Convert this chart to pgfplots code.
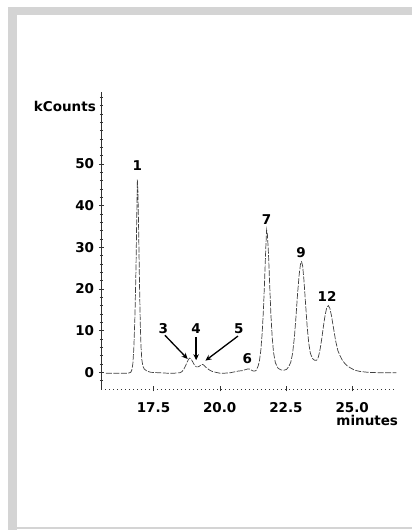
\documentclass[border=0pt]{standalone}
\usepackage{fontspec}
\setmainfont{DejaVu Sans}
\usepackage{pgfplots}
\pgfplotsset{compat=1.18}
\usetikzlibrary{arrows.meta}
\definecolor{framegray}{HTML}{D4D4D4}
\definecolor{trace}{HTML}{404040}
\newcommand{\lbl}{\fontsize{13.5bp}{16bp}\selectfont\bfseries}

\begin{document}
\begin{tikzpicture}
% page frame
\path[use as bounding box, fill=white] (0bp,0bp) rectangle (412bp,530bp);
\fill[framegray] (8bp,0bp) rectangle (17bp,523bp);
\fill[framegray] (8bp,515bp) rectangle (412bp,523bp);
\fill[framegray] (8bp,1.5bp) rectangle (412bp,2.5bp);

\begin{axis}[
    at={(101.3bp,141bp)}, anchor=south west,
    scale only axis, width=295.4bp, height=297.3bp,
    xmin=15.53, xmax=26.68, ymin=-4, ymax=67.3,
    axis x line*=bottom, axis y line*=left,
    x axis line style={-, black!80, dash pattern=on 0.8bp off 3.2bp, line width=0.8bp},
    y axis line style={-, black!80, line width=0.6bp},
    xtick={17.5,20,22.5,25},
    ytick={0,10,...,50},
    minor ytick={-2,2,4,...,66},
    tick align=center,
    major tick length=5bp, minor tick length=3bp,
    tick style={black!80, line width=0.4bp},
    /pgf/number format/assume math mode=true,
    tick label style={font=\lbl},
    xticklabel style={anchor=north, inner sep=0pt, yshift=-10.5bp,
        /pgf/number format/fixed, /pgf/number format/fixed zerofill,
        /pgf/number format/precision=1},
    yticklabel style={anchor=east, inner sep=0pt, xshift=-4.5bp},
    clip=false,
]
\addplot[trace, line width=0.7bp, dash pattern=on 6bp off 1.5bp] coordinates {
(15.70,-0.2) (16.00,-0.2) (16.30,-0.2) (16.55,-0.2) (16.64,0.0) (16.68,0.5)
(16.72,2.0) (16.76,6.0) (16.80,13.5) (16.84,25) (16.87,38) (16.89,46.2)
(16.91,44) (16.94,34) (16.97,22) (17.00,12) (17.03,6) (17.06,3)
(17.10,1.5) (17.15,0.8) (17.25,0.3) (17.40,0.0) (17.70,-0.1) (18.00,-0.2)
(18.30,-0.2) (18.50,-0.1) (18.58,0.2) (18.65,0.8) (18.72,1.7) (18.78,2.6)
(18.83,3.2) (18.87,3.4) (18.92,3.2) (18.98,2.5) (19.05,1.7) (19.12,1.3)
(19.18,1.3) (19.24,1.5) (19.30,1.8) (19.36,1.9) (19.42,1.6) (19.50,1.1)
(19.60,0.6) (19.72,0.2) (19.85,0.0) (20.00,-0.2) (20.20,-0.2) (20.40,-0.1)
(20.55,0.1) (20.70,0.3) (20.85,0.4) (20.95,0.6) (21.05,0.8) (21.12,0.8)
(21.20,0.5) (21.27,0.3) (21.33,0.3) (21.38,0.5) (21.45,1.5) (21.50,2.8)
(21.55,5.2) (21.60,9.2) (21.65,15) (21.70,23) (21.74,30) (21.77,34.2)
(21.80,33) (21.84,28.5) (21.88,22) (21.93,14) (21.98,8.5) (22.03,4.8)
(22.10,2.3) (22.20,1.0) (22.30,0.6) (22.42,0.5) (22.52,0.7) (22.60,1.3)
(22.68,2.4) (22.75,4.5) (22.82,8.5) (22.88,13.5) (22.94,19) (23.00,23.5)
(23.05,26) (23.09,26.5) (23.13,25.5) (23.18,22) (23.24,16.5) (23.30,11)
(23.36,7) (23.42,4.6) (23.50,3.3) (23.58,2.9) (23.66,2.9) (23.72,3.6)
(23.78,5.2) (23.85,8) (23.92,11.3) (23.98,13.8) (24.04,15.5) (24.10,16.0)
(24.16,15.3) (24.22,13.5) (24.30,10.4) (24.38,7.4) (24.46,5.2) (24.54,4.0)
(24.62,3.0) (24.70,2.3) (24.80,1.6) (24.95,1.0) (25.10,0.5) (25.30,0.2)
(25.60,0.0) (26.00,-0.1) (26.40,-0.1) (26.67,-0.1)
};

% peak labels
\node[font=\lbl] at (axis cs:16.89,49.7) {1};
\node[font=\lbl] at (axis cs:21.77,36.6) {7};
\node[font=\lbl] at (axis cs:23.07,28.7) {9};
\node[font=\lbl] at (axis cs:24.05,18.2) {12};
\node[font=\lbl] at (axis cs:17.87,10.5) {3};
\node[font=\lbl] at (axis cs:19.11,10.5) {4};
\node[font=\lbl] at (axis cs:20.72,10.5) {5};
\node[font=\lbl] at (axis cs:21.04,3.4) {6};

% arrows
\draw[-{Stealth[length=6bp,width=5.5bp]}, line width=1.3bp] (axis cs:17.93,8.9) -- (axis cs:18.79,3.2);
\draw[-{Stealth[length=6bp,width=5.5bp]}, line width=1.3bp] (axis cs:19.11,8.5) -- (axis cs:19.11,2.9);
\draw[-{Stealth[length=6bp,width=5.5bp]}, line width=1.3bp] (axis cs:20.69,8.7) -- (axis cs:19.46,2.8);

% axis titles
\node[font=\lbl, anchor=east, inner sep=0pt] at (rel axis cs:0,1) [xshift=-5.3bp, yshift=-14.3bp] {kCounts};
\node[font=\lbl, anchor=north east, inner sep=0pt] at (rel axis cs:1,0) [xshift=1.5bp, yshift=-26bp] {minutes};
\end{axis}
\end{tikzpicture}
\end{document}
